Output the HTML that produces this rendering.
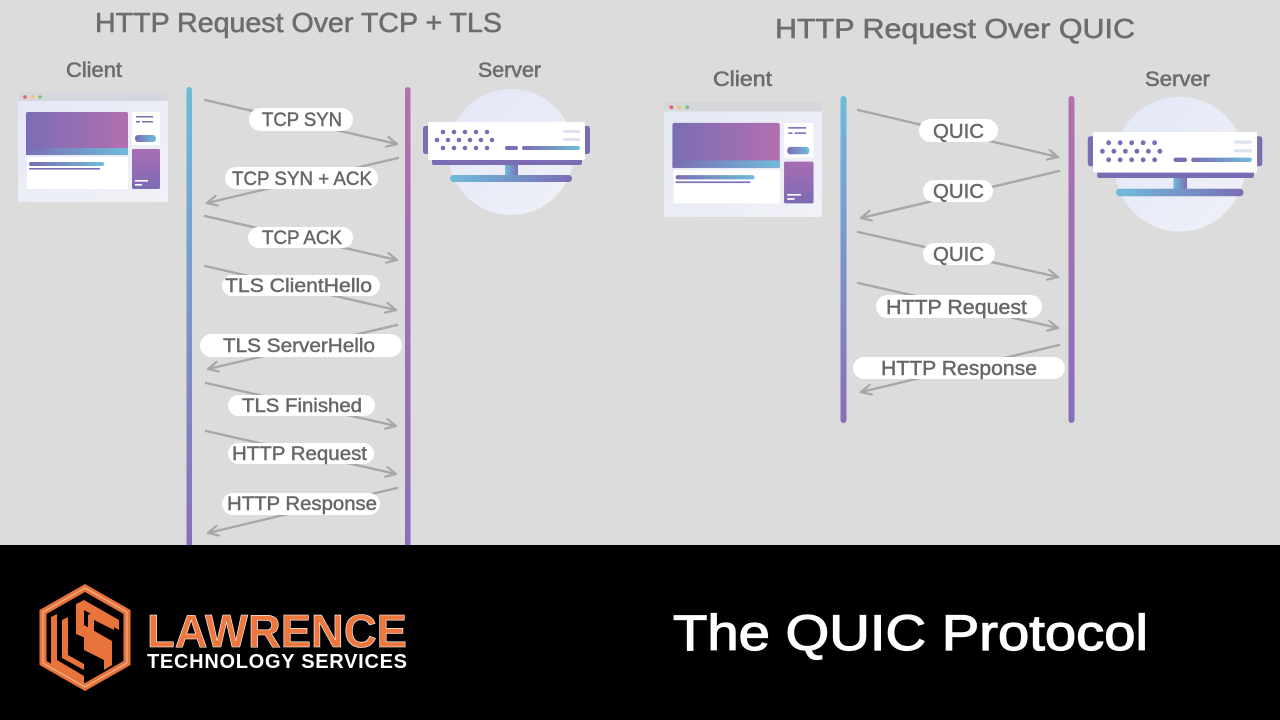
<!DOCTYPE html>
<html><head><meta charset="utf-8"><style>
html,body{margin:0;padding:0;background:#dcdcdc;}
svg{display:block;}
text{font-family:"Liberation Sans",sans-serif;}
</style></head><body>
<svg width="1280" height="720" viewBox="0 0 1280 720" xmlns="http://www.w3.org/2000/svg">
<defs>
  <linearGradient id="vl" x1="0" y1="0" x2="0" y2="1"><stop offset="0" stop-color="#6cbbd9"/><stop offset="1" stop-color="#8a6cb6"/></linearGradient>
  <linearGradient id="vr" x1="0" y1="0" x2="0" y2="1"><stop offset="0" stop-color="#b46fb0"/><stop offset="1" stop-color="#876fba"/></linearGradient>
  <linearGradient id="hero" x1="0" y1="0" x2="1" y2="0"><stop offset="0" stop-color="#7a6db4"/><stop offset="1" stop-color="#b26fb0"/></linearGradient>
  <linearGradient id="teal" x1="0" y1="0" x2="1" y2="0"><stop offset="0" stop-color="#7a6db4"/><stop offset="1" stop-color="#6fbcd9"/></linearGradient>
  <linearGradient id="teal2" x1="0" y1="0" x2="1" y2="0"><stop offset="0" stop-color="#6fbcd9"/><stop offset="1" stop-color="#7a6db4"/></linearGradient>
  <linearGradient id="card" x1="0" y1="0" x2="0" y2="1"><stop offset="0" stop-color="#a86db2"/><stop offset="1" stop-color="#7d6cb5"/></linearGradient>
  <linearGradient id="panel" x1="0" y1="0" x2="1" y2="1"><stop offset="0" stop-color="#e4e8f5"/><stop offset="1" stop-color="#f1f2f7"/></linearGradient>
  <linearGradient id="circ" x1="0" y1="0" x2="1" y2="1"><stop offset="0" stop-color="#e2e7f7"/><stop offset="1" stop-color="#f0f1f8"/></linearGradient>
  <marker id="ah" markerUnits="userSpaceOnUse" markerWidth="14" markerHeight="14" refX="11" refY="6" orient="auto">
    <path d="M1,1 L11,6 L1,11" fill="none" stroke="#a7a7a7" stroke-width="2.2" stroke-linecap="round" stroke-linejoin="round"/>
  </marker>
  <g id="browser">
    <rect x="0" y="0" width="150" height="110" fill="url(#panel)"/>
    <rect x="0" y="0" width="150" height="9" fill="#d6d7dc"/>
    <circle cx="7" cy="5" r="1.8" fill="#e35d6a"/>
    <circle cx="14.5" cy="5" r="1.8" fill="#ecc860"/>
    <circle cx="22" cy="5" r="1.8" fill="#7cc283"/>
    <rect x="8" y="20" width="102" height="43" rx="2" fill="url(#hero)"/>
    <rect x="8" y="56" width="102" height="7" fill="url(#teal)"/>
    <rect x="9" y="65" width="101" height="32" fill="#ffffff"/>
    <rect x="11" y="70" width="75" height="4" rx="2" fill="url(#teal)"/>
    <rect x="11" y="76" width="71" height="1.6" fill="#7a6db4"/>
    <rect x="114" y="20" width="28" height="33" fill="#ffffff"/>
    <rect x="118" y="24" width="17" height="1.5" fill="#7a6db4"/>
    <rect x="118" y="29" width="4" height="1.5" fill="#7a6db4"/>
    <rect x="124" y="29" width="11" height="1.5" fill="#7a6db4"/>
    <rect x="117" y="43" width="21" height="7" rx="3" fill="url(#teal)"/>
    <rect x="114" y="57" width="28" height="40" rx="1.5" fill="url(#card)"/>
    <rect x="117" y="88" width="13" height="1.6" fill="#ffffff"/>
    <rect x="117" y="92" width="7" height="1.6" fill="#ffffff"/>
  </g>
  <g id="server">
    <circle cx="83" cy="30" r="63" fill="url(#circ)"/>
    <rect x="-5" y="4" width="9" height="28" rx="2.5" fill="#7a6db4"/>
    <rect x="153" y="4" width="9" height="28" rx="2.5" fill="#7a6db4"/>
    <rect x="4" y="34" width="150" height="9" rx="2" fill="#7a6db4"/>
    <rect x="0" y="0" width="157" height="38" rx="2" fill="#ffffff"/>
    <rect x="77" y="43" width="13" height="11" fill="url(#teal2)"/>
    <rect x="22" y="53" width="122" height="7" rx="3.5" fill="url(#teal2)"/>
    <g fill="#7a6db4">
      <circle cx="15" cy="10" r="2.3"/><circle cx="26" cy="10" r="2.3"/><circle cx="37" cy="10" r="2.3"/><circle cx="48" cy="10" r="2.3"/><circle cx="59" cy="10" r="2.3"/>
      <circle cx="9" cy="18" r="2.3"/><circle cx="20" cy="18" r="2.3"/><circle cx="31" cy="18" r="2.3"/><circle cx="42" cy="18" r="2.3"/><circle cx="53" cy="18" r="2.3"/><circle cx="64" cy="18" r="2.3"/>
      <circle cx="15" cy="26" r="2.3"/><circle cx="26" cy="26" r="2.3"/><circle cx="37" cy="26" r="2.3"/><circle cx="48" cy="26" r="2.3"/><circle cx="59" cy="26" r="2.3"/>
      <rect x="77" y="24" width="13" height="4" rx="2"/>
    </g>
    <rect x="94" y="24" width="58" height="4" rx="2" fill="url(#teal)"/>
    <rect x="135" y="8" width="17" height="3" rx="1.5" fill="#dde2ef"/>
    <rect x="135" y="16" width="17" height="3" rx="1.5" fill="#dde2ef"/>
  </g>
</defs>

<rect x="0" y="0" width="1280" height="720" fill="#dcdcdc"/>

<!-- Titles -->
<g fill="#6d6d6d" stroke="#6d6d6d" stroke-width="0.6">
<text x="95" y="32" font-size="28" textLength="407" lengthAdjust="spacingAndGlyphs">HTTP Request Over TCP + TLS</text>
<text x="775" y="38" font-size="28" textLength="360" lengthAdjust="spacingAndGlyphs">HTTP Request Over QUIC</text>
<text x="66" y="77" font-size="21" textLength="56" lengthAdjust="spacingAndGlyphs">Client</text>
<text x="478" y="77" font-size="21" textLength="63" lengthAdjust="spacingAndGlyphs">Server</text>
<text x="713" y="86" font-size="21" textLength="59" lengthAdjust="spacingAndGlyphs">Client</text>
<text x="1145" y="86" font-size="21" textLength="65" lengthAdjust="spacingAndGlyphs">Server</text>
</g>

<!-- Icons -->
<use href="#browser" transform="translate(18,92)"/>
<use href="#browser" transform="translate(664,102) scale(1.053,1.045)"/>
<use href="#server" transform="translate(428,122)"/>
<use href="#server" transform="translate(1093,132) scale(1.045,1.07)"/>

<!-- Vertical lifelines -->
<rect x="186.5" y="87" width="5.5" height="470" rx="2.75" fill="url(#vl)"/>
<rect x="405" y="87" width="5.5" height="470" rx="2.75" fill="url(#vr)"/>
<rect x="840.5" y="96" width="6" height="327" rx="3" fill="url(#vl)"/>
<rect x="1068.5" y="96" width="6" height="327" rx="3" fill="url(#vr)"/>

<!-- Arrows -->
<g stroke="#a7a7a7" stroke-width="2.4" fill="none" stroke-linecap="round" marker-end="url(#ah)">
  <line x1="205" y1="100" x2="397" y2="144"/>
  <line x1="398" y1="158" x2="207" y2="203"/>
  <line x1="205" y1="216" x2="397" y2="260"/>
  <line x1="205" y1="266" x2="396" y2="310"/>
  <line x1="397" y1="325" x2="208" y2="369"/>
  <line x1="206" y1="383" x2="396" y2="426"/>
  <line x1="206" y1="431" x2="396" y2="474"/>
  <line x1="397" y1="488" x2="208" y2="533"/>

  <line x1="858" y1="110" x2="1058" y2="157"/>
  <line x1="1059" y1="171" x2="861" y2="218"/>
  <line x1="858" y1="232" x2="1058" y2="277"/>
  <line x1="858" y1="283" x2="1058" y2="328"/>
  <line x1="1059" y1="345" x2="861" y2="392"/>
</g>

<!-- Pills -->
<g fill="#ffffff">
  <rect x="249" y="108" width="104" height="23" rx="11.5"/>
  <rect x="225" y="167" width="153" height="22" rx="11"/>
  <rect x="248" y="227" width="105" height="21" rx="10.5"/>
  <rect x="222" y="275" width="158" height="21" rx="10.5"/>
  <rect x="200" y="334" width="202" height="23" rx="11.5"/>
  <rect x="228" y="395" width="147" height="21" rx="10.5"/>
  <rect x="228" y="443" width="146" height="21" rx="10.5"/>
  <rect x="222" y="493" width="158" height="22" rx="11"/>

  <rect x="919" y="119" width="79" height="23" rx="11.5"/>
  <rect x="923" y="180" width="70" height="22" rx="11"/>
  <rect x="923" y="243" width="72" height="22" rx="11"/>
  <rect x="876" y="295" width="166" height="23" rx="11.5"/>
  <rect x="853" y="357" width="212" height="22" rx="11"/>
</g>

<!-- Labels -->
<g font-size="19" fill="#676767" stroke="#676767" stroke-width="0.45">
  <text x="262" y="126" textLength="80" lengthAdjust="spacingAndGlyphs">TCP SYN</text>
  <text x="232" y="185" textLength="140" lengthAdjust="spacingAndGlyphs">TCP SYN + ACK</text>
  <text x="262" y="244" textLength="80" lengthAdjust="spacingAndGlyphs">TCP ACK</text>
  <text x="225" y="292" textLength="147" lengthAdjust="spacingAndGlyphs">TLS ClientHello</text>
  <text x="223" y="352" textLength="152" lengthAdjust="spacingAndGlyphs">TLS ServerHello</text>
  <text x="242" y="412" textLength="120" lengthAdjust="spacingAndGlyphs">TLS Finished</text>
  <text x="232" y="460" textLength="135" lengthAdjust="spacingAndGlyphs">HTTP Request</text>
  <text x="227" y="510" textLength="150" lengthAdjust="spacingAndGlyphs">HTTP Response</text>
</g>
<g font-size="20" fill="#676767" stroke="#676767" stroke-width="0.45">
  <text x="933" y="138" textLength="51" lengthAdjust="spacingAndGlyphs">QUIC</text>
  <text x="933" y="198" textLength="51" lengthAdjust="spacingAndGlyphs">QUIC</text>
  <text x="933" y="261" textLength="51" lengthAdjust="spacingAndGlyphs">QUIC</text>
  <text x="886" y="314" textLength="141" lengthAdjust="spacingAndGlyphs">HTTP Request</text>
  <text x="881" y="375" textLength="156" lengthAdjust="spacingAndGlyphs">HTTP Response</text>
</g>

<!-- Bottom band -->
<rect x="0" y="545" width="1280" height="175" fill="#000000"/>

<!-- Logo -->
<g>
  <polygon points="85,588 127,612 127,663 85,687 43,663 43,612" fill="none" stroke="#e8743b" stroke-width="7" stroke-linejoin="miter"/>
  <polygon points="85,588 127,612 127,663 85,687 43,663 43,612" fill="none" stroke="#f6c9b0" stroke-width="0.8"/>
  <g fill="#e8743b">
    <polygon points="51,617 57,614 57,660 84,676 84,683 51,664"/>
    <polygon points="62,620 68,617 68,655 84,664 84,670 62,658"/>
    <polygon points="76,604 84,600 119,620 119,630 84,610 84,625 76,630"/>
    <polygon points="76,630 84,625 112,641 112,665 104,670 104,646 76,634"/>
    <polygon points="88,615 94,612 114,624 114,630 94,620 94,632 88,629"/>
    <polygon points="84,636 104,646 104,660 84,650"/>
  </g>
</g>
<text x="147" y="647" font-size="46" font-weight="bold" fill="#ee773d" stroke="#ffffff" stroke-width="0.6" textLength="260" lengthAdjust="spacingAndGlyphs">LAWRENCE</text>
<text x="147" y="668" font-size="20" font-weight="bold" fill="#ffffff" textLength="260" lengthAdjust="spacing">TECHNOLOGY SERVICES</text>

<text x="673" y="650" font-size="50" fill="#ffffff" stroke="#ffffff" stroke-width="1.2" textLength="475" lengthAdjust="spacingAndGlyphs">The QUIC Protocol</text>
</svg>
</body></html>
